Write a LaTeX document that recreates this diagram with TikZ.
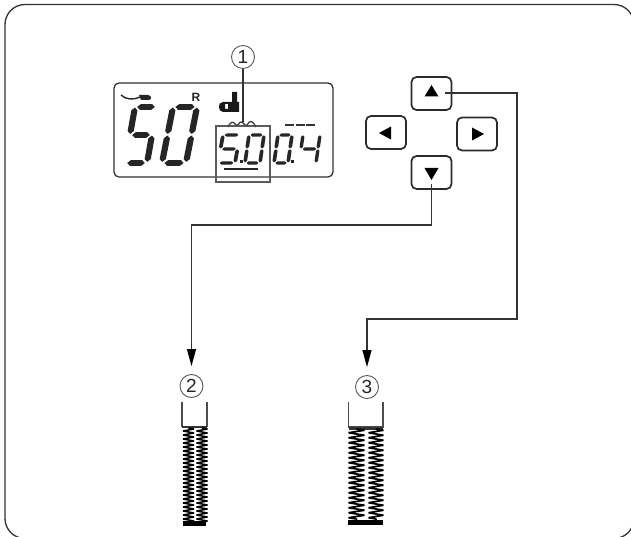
\documentclass[tikz,border=0pt]{standalone}
\usepackage{fontspec}
\setmainfont{Liberation Sans}
\usetikzlibrary{arrows.meta,decorations.pathmorphing,shapes.geometric}
\definecolor{ink}{gray}{0.2}
\tikzset{
  frameline/.style={draw=ink,line width=1.3pt,rounded corners=20pt},
  btn/.style={draw=ink!85!black,line width=1.7pt,rounded corners=5pt,minimum width=40pt,minimum height=33pt,inner sep=0pt},
  tri/.style={fill=black},
  num/.style={circle,draw=black!65,line width=0.9pt,minimum size=23pt,inner sep=0pt,font=\fontsize{19}{19}\selectfont,text=black!85},
  conn/.style={draw=ink,line width=1.2pt},
  arr/.style={conn,shorten >=8pt,-{Triangle[length=17pt,width=9pt,color=black]}},
  footline/.style={draw=black!70,line width=1.2pt},
  zz/.style={draw=black,line join=bevel,decorate},
}
\newcommand{\hsg}[2]{\fill[black!85] (#1,#2) -- ++(\tx,\ty) -- ++(0.9-2*\tx-0.1,0) -- (#1+0.8,#2) -- ++(-\tx,-\ty) -- ++(-0.9+2*\tx+0.1,0) -- cycle;}
\newcommand{\vsg}[2]{\fill[black!85] (#1,#2) -- ++(\tx,\ty) -- (#1+\tx,#2+0.47-\ty) -- (#1,#2+0.47) -- (#1-\tx,#2+0.47-\ty) -- (#1-\tx,#2+\ty) -- cycle;}
\newcommand{\sega}{\hsg{0.1}{1}}
\newcommand{\segg}{\hsg{0.1}{0.5}}
\newcommand{\segd}{\hsg{0.1}{0}}
\newcommand{\segf}{\vsg{0}{0.52}}
\newcommand{\sege}{\vsg{0}{0.02}}
\newcommand{\segb}{\vsg{1}{0.52}}
\newcommand{\segc}{\vsg{1}{0.02}}
% x0 y0 width slant height tx ty segments
\newcommand{\sevendigit}[8]{\begin{scope}[shift={(#1,#2)},x={(#3pt,0pt)},y={(#4pt,#5pt)}]\def\tx{#6}\def\ty{#7}#8\end{scope}}
\begin{document}
\begin{tikzpicture}[x=1pt,y=-1pt]
\useasboundingbox (0,0) rectangle (631,537);
\clip (0,0) rectangle (631,537);
\fill[white] (0,0) rectangle (631,537);
\draw[frameline] (5,4.5) rectangle (634,538.5);

% display
\node[draw=ink,line width=1.3pt,rounded corners=5pt,minimum width=219pt,minimum height=94pt,inner sep=0pt] (lcd) at (223.5,130) {};
\node[draw=ink!80,line width=1.1pt,minimum width=54pt,minimum height=56pt,inner sep=0pt] (sel) at (243,154) {};
\node[num] (n1) at (243,57) {1};
\draw[conn] (n1) -- (243,122);

% big 50
\sevendigit{125}{163}{22}{10}{56}{0.14}{0.05}{\sega\segf\segg\segc\segd}
\sevendigit{162}{163}{24}{11}{56}{0.13}{0.05}{\sega\segb\segc\segd\sege\segf}
% small 5.0 0.4
\sevendigit{218}{163}{17}{5}{28}{0.11}{0.055}{\sega\segf\segg\segc\segd}
\sevendigit{245}{163}{15}{4}{28}{0.12}{0.055}{\sega\segb\segc\segd\sege\segf}
\sevendigit{274}{163}{14}{4}{28}{0.13}{0.055}{\sega\segb\segc\segd\sege\segf}
\sevendigit{299}{163}{17}{4}{28}{0.1}{0.055}{\segf\segg\segb\segc}
\fill[black!85] (240,160.5) rectangle (242.5,163);
\fill[black!85] (291,160.5) rectangle (293.5,163);
\fill[black!85] (224,168) rectangle (258,170.5);
\foreach \a in {285,295.5,306}{\fill[black!80] (\a,124.5) rectangle (\a+9,126.5);}
% stitch mark
\draw[black!75,line width=1.3pt] (228,127) .. controls (231,121) and (233,121) .. (236,125) -- (238,125) .. controls (240,121) and (242,121) .. (245,125) -- (247,125) .. controls (250,120) and (252,120) .. (256,127);
% thread mark
\draw[black!85,line width=1.4pt] (121,95) .. controls (126,100) and (134,100) .. (140,97);
\fill[black!85] (139,95) -- (148,95) .. controls (152,96) and (152,99) .. (149,100) -- (141,100) -- cycle;
\node[font=\bfseries\fontsize{12}{12}\selectfont,text=black!85,inner sep=0pt] (rmark) at (196,97) {R};
% foot mark
\fill[black!90,even odd rule] (232,92) -- (237,92) -- (237,102) -- (239,102) -- (239,112) -- (223,112) .. controls (218,112) and (217,102) .. (223,102) -- (232,102) -- cycle (225,104) rectangle (228,109);

% buttons
\node[btn] (up) at (431.5,93.5) {};
\node[btn] (left) at (386,132.5) {};
\node[btn] (right) at (477,134) {};
\node[btn] (down) at (431.5,172.5) {};
\fill[tri] (431.5,85) -- (438.5,96.5) -- (424.5,96.5) -- cycle;
\fill[tri] (379,133) -- (391,126.5) -- (391,139.5) -- cycle;
\fill[tri] (484,134) -- (472,127.5) -- (472,140.5) -- cycle;
\fill[tri] (431.5,180) -- (424.5,168) -- (438.5,168) -- cycle;

% numbered stitches
\node[num] (n2) at (191.5,386) {2};
\node[num] (n3) at (367,387) {3};
\coordinate (upout) at (445,93);
\coordinate (downout) at (431.5,184);
\draw[arr] (upout) -- (517,93) -- (517,319) -- (367,319) -- (n3.north);
\draw[arr] (downout) -- (431.5,225) -- (191.5,225) -- (n2.north);

% stitch 2
\draw[footline] (182,402) -- (182,426.5) -- (207,426.5) -- (207,402);
\fill[black!80] (182,426) rectangle (207,428);
\draw[zz,line width=1.5pt,decoration={zigzag,segment length=4pt,amplitude=5.5pt}] (188.5,428) -- (188.5,522);
\draw[zz,line width=1.5pt,decoration={zigzag,segment length=4pt,amplitude=5.5pt}] (202,428) -- (202,522);
\fill[black] (183,521) rectangle (206,526);

% stitch 3
\draw[footline] (348.5,402) -- (348.5,427) -- (383,427) -- (383,402);
\fill[black!80] (349,427) rectangle (383,430);
\draw[zz,line width=1.7pt,decoration={zigzag,segment length=5pt,amplitude=8pt}] (356.5,429) -- (356.5,521);
\draw[zz,line width=1.7pt,decoration={zigzag,segment length=5pt,amplitude=7.5pt}] (376,429) -- (376,521);
\fill[black] (348,520) rectangle (383,525);
\end{tikzpicture}
\end{document}
